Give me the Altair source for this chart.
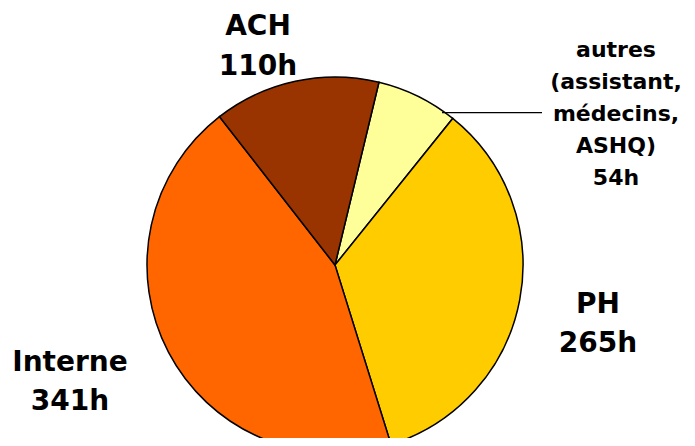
import altair as alt
import pandas as pd

categories = ["autres", "PH", "Interne", "ACH"]
hours = [54, 265, 341, 110]
label_names = ["autres\n(assistant,\nmédecins,\nASHQ)", "PH", "Interne", "ACH"]
colors = ["#FFFF99", "#FFCC00", "#FF6600", "#993300"]

df = pd.DataFrame({
    "cat": categories,
    "hours": hours,
    "order": list(range(len(categories))),
    "label": [f"{n}\n{h}h" for n, h in zip(label_names, hours)],
})

start = 0.236
TWO_PI = 6.283185307

pie = alt.Chart(df).mark_arc(stroke="black", strokeWidth=1.5).encode(
    theta=alt.Theta("hours:Q", stack=True, scale=alt.Scale(range=[start, start + TWO_PI])),
    order=alt.Order("order:Q"),
    color=alt.Color("cat:N", scale=alt.Scale(domain=categories, range=colors), legend=None),
    x=alt.value(327), y=alt.value(257), radius=alt.value(188),
)

FONT = "DejaVu Sans"

def label(cat, x, y, size, lh):
    return alt.Chart(df).transform_filter(alt.datum.cat == cat).mark_text(
        font=FONT, fontWeight="bold", fontSize=size, lineBreak="\n",
        lineHeight=lh, align="center", baseline="alphabetic", color="black",
    ).encode(text="label:N", x=alt.value(x), y=alt.value(y))

leader = alt.Chart(df).transform_filter(alt.datum.cat == "autres").mark_rule(
    color="black", strokeWidth=1.2
).encode(x=alt.value(434), x2=alt.value(534), y=alt.value(104.7))

chart = alt.layer(
    pie,
    leader,
    label("ACH", 250, 27, 28, 40),
    label("Interne", 62, 363, 28, 39),
    label("PH", 590, 305, 28, 39),
    label("autres", 608, 49, 22, 32),
).properties(
    width=679, height=430, autosize=alt.AutoSizeParams(type="none"), padding=0
).configure_view(stroke=None)

chart.save("out.html", embed_options={"renderer": "svg", "actions": False})
